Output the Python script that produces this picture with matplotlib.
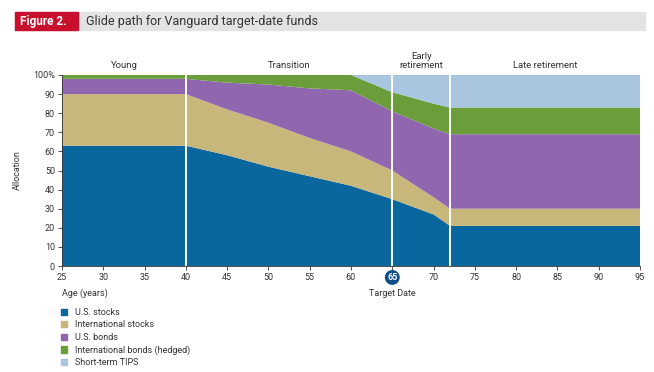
import matplotlib
matplotlib.use("Agg")
import matplotlib.pyplot as plt
from matplotlib.patches import Rectangle
import numpy as np

plt.rcParams["font.family"] = ["Roboto", "DejaVu Sans"]

# Glide path, allocation (%) per asset class by age
ages = [25, 40, 45, 50, 55, 60, 65, 70, 72, 95]
us_stocks = [63, 63, 58, 52, 47, 42, 35, 27, 21, 21]
intl_stocks = [27, 27, 24, 23, 20, 18, 15, 9, 9, 9]
us_bonds = [8, 8, 14, 20, 26, 32, 31, 36, 39, 39]
intl_bonds = [2, 2, 4, 5, 7, 8, 10, 13, 14, 14]
tips = [0, 0, 0, 0, 0, 0, 9, 15, 17, 17]

series_names = ["U.S. stocks", "International stocks", "U.S. bonds",
                "International bonds (hedged)", "Short-term TIPS"]
colors = ["#0a679e", "#c8b77a", "#9067ae", "#6b9e3a", "#a9c5df"]

phase_names = ["Young", "Transition", "Early\nretirement", "Late retirement"]
phase_bounds = [25, 40, 65, 72, 95]

xticks = list(range(25, 100, 5))
yticks = list(range(0, 110, 10))

fig = plt.figure(figsize=(6.54, 3.72), dpi=100)

# title banner
fig.patches.append(Rectangle((15 / 654, 1 - 30 / 372), 630 / 654, 18 / 372,
                             transform=fig.transFigure, color="#e3e3e3", zorder=0))
fig.patches.append(Rectangle((15 / 654, 1 - 30 / 372), 63 / 654, 18 / 372,
                             transform=fig.transFigure, color="#c8102e", zorder=1))
fig.text(20 / 654, 1 - 21 / 372, "Figure 2.", color="white", fontsize=8.5,
         fontweight="bold", va="center", ha="left")
fig.text(86 / 654, 1 - 21 / 372, "Glide path for Vanguard target-date funds",
         color="#333333", fontsize=9, va="center", ha="left")

ax = fig.add_axes([62 / 654, 1 - 266 / 372, 578 / 654, 191 / 372])
ax.stackplot(ages, us_stocks, intl_stocks, us_bonds, intl_bonds, tips,
             colors=colors, labels=series_names, linewidth=0)

for b in phase_bounds[1:4]:
    ax.axvline(b, color="white", lw=1.4, zorder=3)

for i, name in enumerate(phase_names):
    xc = (phase_bounds[i] + phase_bounds[i + 1]) / 2
    ax.text(xc, 102.5, name, ha="center", va="bottom", fontsize=6.8,
            color="#333333", linespacing=1.1)

ax.set_xlim(25, 95)
ax.set_ylim(0, 100)
ax.set_xticks(xticks)
ax.set_yticks(yticks)
ax.set_yticklabels([str(v) if v < 100 else "100%" for v in yticks])
ax.tick_params(axis="both", labelsize=6.5, colors="#333333", length=3, width=0.6,
               pad=2)
for lab in ax.get_xticklabels():
    if lab.get_text() == "65":
        lab.set_color("white")
        lab.set_fontweight("bold")
        lab.set_bbox(dict(boxstyle="circle,pad=0.25", fc="#0c4f86", ec="none"))

for s in ["top", "right"]:
    ax.spines[s].set_visible(False)
for s in ["left", "bottom"]:
    ax.spines[s].set_linewidth(0.6)
    ax.spines[s].set_color("#333333")

ax.set_ylabel("Allocation", fontsize=6.5, color="#333333", labelpad=8)
ax.text(25, -14.5, "Age (years)", fontsize=6.5,
        color="#333333", ha="left", va="center")
ax.text(65, -14.5, "Target Date", fontsize=6.5, color="#333333",
        ha="center", va="center")

# legend
handles = [Rectangle((0, 0), 1, 1, color=c) for c in colors]
fig.legend(handles, series_names, loc="upper left",
           bbox_to_anchor=(61 / 654, 1 - 308 / 372), frameon=False,
           fontsize=6.5, handlelength=0.7, handleheight=0.7,
           handletextpad=0.9, labelspacing=0.38, borderpad=0,
           borderaxespad=0, labelcolor="#333333")

fig.savefig("out.png", dpi=100)
